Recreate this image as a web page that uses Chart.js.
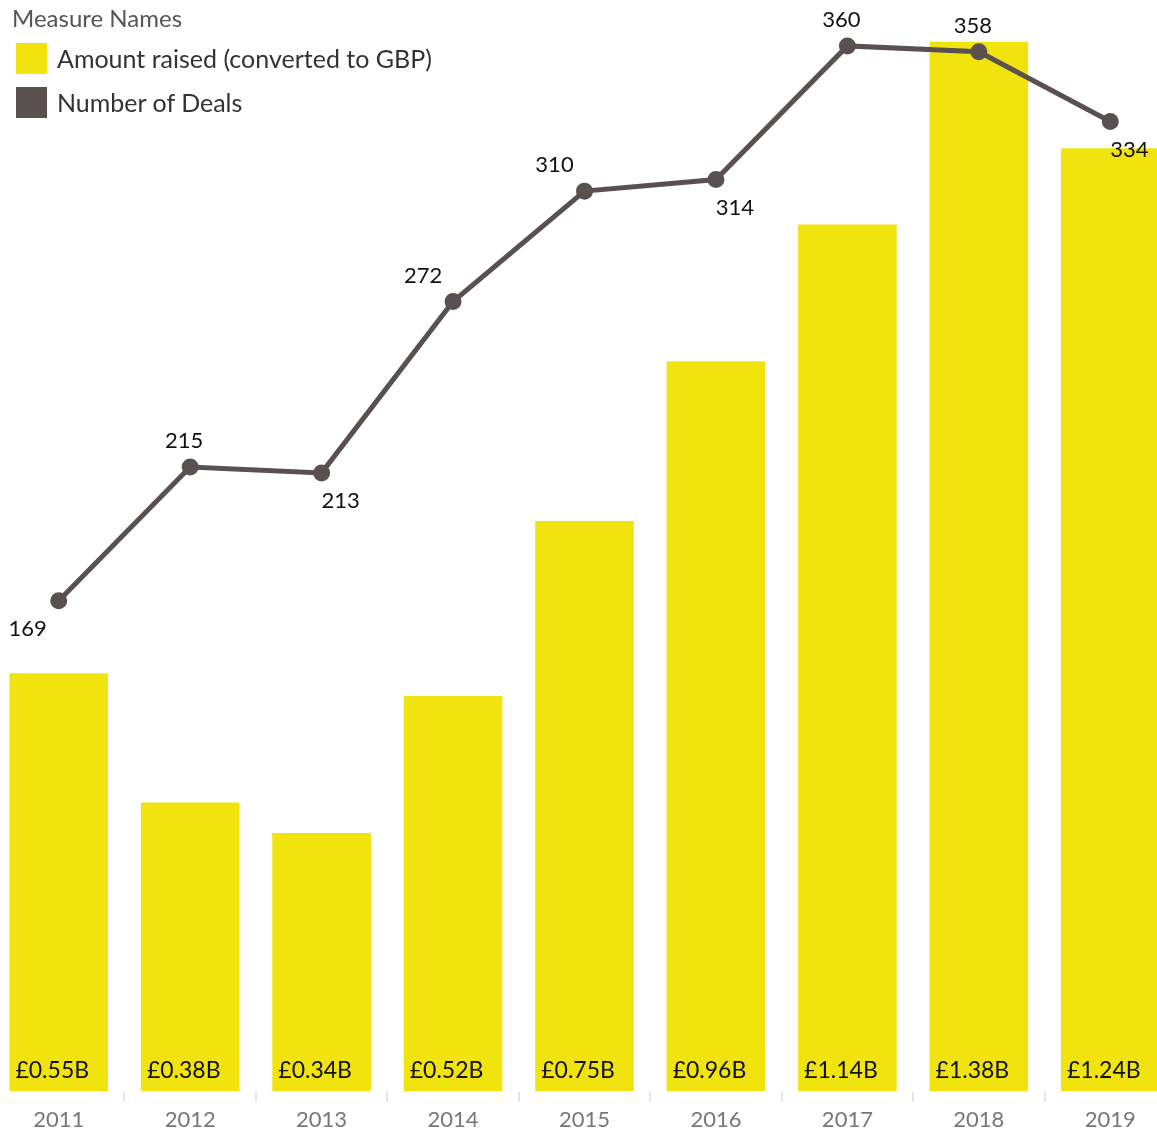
<!DOCTYPE html>
<html lang="en">
<head>
  <meta charset="UTF-8">
  <title>Amount raised and number of deals</title>
  <script src="https://cdn.jsdelivr.net/npm/chart.js"></script>
  <style>
    html, body { margin: 0; padding: 0; background: #fff; overflow: hidden; }
    body { width: 1157px; height: 1136px; position: relative; font-family: Lato, "Noto Sans", sans-serif; }
    #wrap { position: absolute; left: -7px; top: 0; width: 1183px; height: 1138px; }
    #legend { position: absolute; left: 12px; top: 3px; }
    #legend .title { font-size: 24px; color: #555; margin-bottom: 4px; }
    #legend .item { display: flex; align-items: center; height: 44px; margin-left: 4px; font-size: 25px; color: #333; }
    #legend .sw { width: 31px; height: 31px; margin-right: 10px; }
  </style>
</head>
<body>
  <div id="wrap"><canvas id="chart"></canvas></div>
  <div id="legend">
    <div class="title">Measure Names</div>
    <div class="item"><span class="sw" style="background:#F1E30E"></span>Amount raised (converted to GBP)</div>
    <div class="item"><span class="sw" style="background:#5A5050"></span>Number of Deals</div>
  </div>

  <script>
    const years = ['2011', '2012', '2013', '2014', '2015', '2016', '2017', '2018', '2019'];
    const amountRaised = [0.55, 0.38, 0.34, 0.52, 0.75, 0.96, 1.14, 1.38, 1.24];  // £ billions
    const numberOfDeals = [169, 215, 213, 272, 310, 314, 360, 358, 334];

    // where each deal label sits relative to its point
    const dealLabelSide = ['bl', 'a', 'br', 'al', 'al', 'br', 'a', 'a', 'br'];

    const labelPlugin = {
      id: 'labels',
      afterDatasetsDraw(chart) {
        const ctx = chart.ctx;
        ctx.save();
        ctx.fillStyle = '#111';
        ctx.textBaseline = 'middle';

        ctx.font = '23px Lato, "Noto Sans", sans-serif';
        chart.getDatasetMeta(0).data.forEach((bar, i) => {
          ctx.textAlign = 'left';
          ctx.fillText('£' + amountRaised[i].toFixed(2) + 'B', bar.x - bar.width / 2 + 6, bar.base - 21);
        });

        ctx.font = '22px Lato, "Noto Sans", sans-serif';
        chart.getDatasetMeta(1).data.forEach((pt, i) => {
          const side = dealLabelSide[i];
          let dx = 0, dy = -26;
          if (side === 'bl') { dx = -31; dy = 28; }
          if (side === 'br') { dx = 19; dy = 28; }
          if (side === 'al') { dx = -30; }
          if (side === 'a') { dx = -6; }
          ctx.textAlign = 'center';
          ctx.fillText(String(numberOfDeals[i]), pt.x + dx, pt.y + dy);
        });
        ctx.restore();
      }
    };

    new Chart(document.getElementById('chart').getContext('2d'), {
      data: {
        labels: years,
        datasets: [{
          type: 'bar',
          label: 'Amount raised (converted to GBP)',
          data: amountRaised,
          backgroundColor: '#F1E30E',
          barPercentage: 0.75,
          categoryPercentage: 1,
          yAxisID: 'y',
          order: 1
        }, {
          type: 'line',
          label: 'Number of Deals',
          data: numberOfDeals,
          borderColor: '#5A5050',
          backgroundColor: '#5A5050',
          borderWidth: 5,
          pointRadius: 6,
          pointHoverRadius: 6,
          tension: 0,
          clip: false,
          yAxisID: 'y2',
          order: 0
        }]
      },
      options: {
        responsive: true,
        maintainAspectRatio: false,
        animation: false,
        layout: { padding: 0, autoPadding: false },
        plugins: { legend: { display: false }, tooltip: { enabled: false } },
        scales: {
          x: {
            offset: true,
            border: { display: false },
            grid: { offset: true, drawOnChartArea: false, tickLength: 10, color: '#e4e4e4', lineWidth: 2 },
            ticks: { color: '#777', font: { size: 22, family: 'Lato, "Noto Sans", sans-serif' }, padding: 5 }
          },
          y: { display: false, min: 0, max: 1.435 },
          y2: { display: false, min: 0, max: 375.8 }
        }
      },
      plugins: [labelPlugin]
    });
  </script>
</body>
</html>
